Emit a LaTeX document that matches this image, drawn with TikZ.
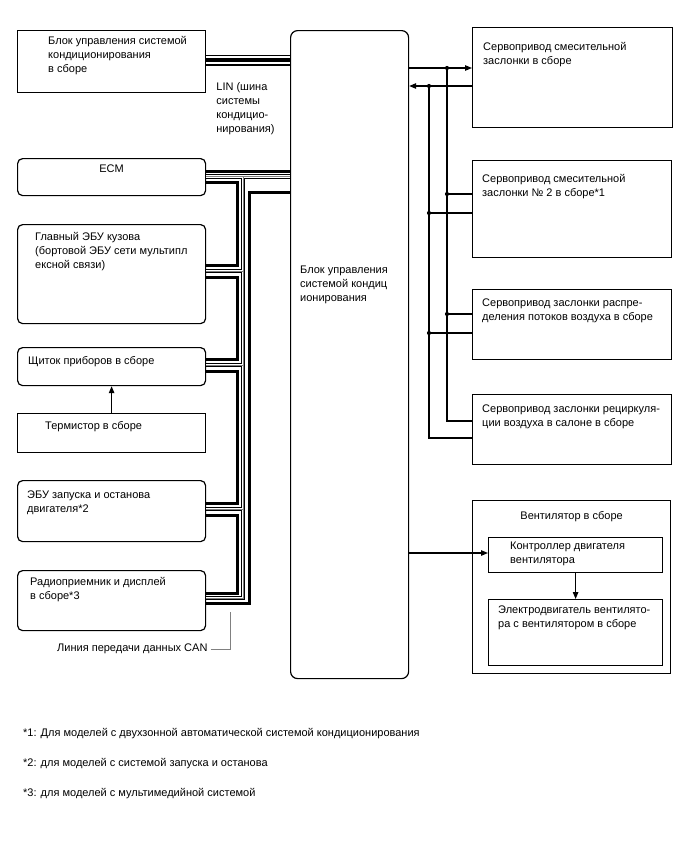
\documentclass[tikz,border=0pt]{standalone}
\usepackage{fontspec}
\setmainfont{Liberation Sans}
\usetikzlibrary{arrows.meta, positioning}

\begin{document}
\begin{tikzpicture}[x=1pt, y=-1pt,
    box/.style={rectangle, draw, line width=1.2pt, inner sep=0pt, anchor=north west},
    ecu/.style={box, rounded corners=5pt},
    txt/.style={inner sep=0pt, align=left, font=\fontsize{11}{14}\selectfont},
    wire/.style={line width=1.1pt},
    sig/.style={wire, -{Triangle[length=7pt, width=5.5pt]}},
    canh/.style={line width=3pt},
    dot/.style={circle, fill, inner sep=0pt, minimum size=4.2pt},
    leader/.style={gray, line width=1pt}
]
\useasboundingbox (0,0) rectangle (688,852);

% left column
\node[box, minimum width=188pt, minimum height=62pt] (acu) at (17,30) {};
\node[ecu, minimum width=188pt, minimum height=37pt] (ecm) at (17,158) {};
\node[ecu, minimum width=188pt, minimum height=99pt] (body) at (17,224) {};
\node[ecu, minimum width=188pt, minimum height=38pt] (clus) at (17,347) {};
\node[box, minimum width=188pt, minimum height=39pt] (therm) at (17,413) {};
\node[ecu, minimum width=188pt, minimum height=61pt] (ss) at (17,480) {};
\node[ecu, minimum width=188pt, minimum height=60pt] (radio) at (17,570) {};
\node[txt, below right=6pt and 31pt of acu.north west] (acut) {Блок управления системой\\кондиционирования\\в сборе};
\node[txt, below=7pt of ecm.north] (ecmt) {ECM};
\node[txt, below right=8pt and 18pt of body.north west] (bodyt) {Главный ЭБУ кузова\\(бортовой ЭБУ сети мультипл\\ексной связи)};
\node[txt, below right=9pt and 11pt of clus.north west] (clust) {Щиток приборов в сборе};
\node[txt, below right=8pt and 28pt of therm.north west] (thermt) {Термистор в сборе};
\node[txt, below right=11pt and 10pt of ss.north west] (sst) {ЭБУ запуска и останова\\двигателя*2};
\node[txt, below right=7pt and 13pt of radio.north west] (radiot) {Радиоприемник и дисплей\\в сборе*3};

% climate amplifier
\node[ecu, rounded corners=7pt, minimum width=118pt, minimum height=648pt] (amp) at (290,30) {};
\node[txt, below right=236pt and 10pt of amp.north west] (ampt) {Блок управления\\системой кондиц\\ионирования};

% right column
\node[box, minimum width=200pt, minimum height=100pt] (srv1) at (472,27) {};
\node[box, minimum width=199pt, minimum height=97pt] (srv2) at (472,160) {};
\node[box, minimum width=199pt, minimum height=70pt] (srv3) at (472,289) {};
\node[box, minimum width=199pt, minimum height=70pt] (srv4) at (472,394) {};
\node[box, minimum width=198pt, minimum height=173pt] (fan) at (472,500) {};
\node[box, minimum width=174pt, minimum height=35pt] (ctrl) at (488,537) {};
\node[box, minimum width=174pt, minimum height=66pt] (motor) at (488,599) {};
\node[txt, below right=15pt and 11pt of srv1.north west] (srv1t) {Сервопривод смесительной\\заслонки в сборе};
\node[txt, below right=14pt and 10pt of srv2.north west] (srv2t) {Сервопривод смесительной\\заслонки № 2 в сборе*1};
\node[txt, below right=10pt and 10pt of srv3.north west] (srv3t) {Сервопривод заслонки распре-\\деления потоков воздуха в сборе};
\node[txt, below right=11pt and 10pt of srv4.north west] (srv4t) {Сервопривод заслонки рециркуля-\\ции воздуха в салоне в сборе};
\node[txt, below=11pt of fan.north] (fant) {Вентилятор в сборе};
\node[txt, below right=5pt and 22pt of ctrl.north west] (ctrlt) {Контроллер двигателя\\вентилятора};
\node[txt, below right=7pt and 10pt of motor.north west] (motort) {Электродвигатель вентилято-\\ра с вентилятором в сборе};

% LIN
\coordinate (lin) at (250,60);
\foreach \w/\c in {11pt/black, 8.4pt/white, 3.4pt/black}
  \draw[line width=\w, \c] (acu.east |- lin) -- (amp.west |- lin);
\node[txt, below right=21pt and 10pt of acu.east] (lint) {LIN (шина\\системы\\кондицио-\\нирования)};

% CAN
\coordinate (t0) at (250,171);
\coordinate (a1) at (237,182); \coordinate (a2) at (237,265);
\coordinate (a3) at (237,277); \coordinate (a4) at (237,359);
\coordinate (a5) at (237,371); \coordinate (a6) at (237,503);
\coordinate (a7) at (237,515); \coordinate (a8) at (237,593);
\coordinate (c1) at (249,603); \coordinate (c2) at (249,192);
\coordinate (b0) at (243,176.5); \coordinate (b1) at (243,271);
\coordinate (b2) at (243,365); \coordinate (b3) at (243,509);
\coordinate (b4) at (243,598);
\foreach \w/\c in {4.4pt/black, 2.8pt/white, 0.6pt/gray}
  \draw[line width=\w, \c] (ecm.east |- b0) -- (amp.west |- b0) (b0) -- (b4) -- (radio.east |- b4)
    (body.east |- b1) -- (b1) (clus.east |- b2) -- (b2) (ss.east |- b3) -- (b3);
\draw[canh] (ecm.east |- t0) -- (amp.west |- t0);
\draw[canh] (ecm.east |- a1) -- (a1) -- (a2) -- (body.east |- a2);
\draw[canh] (body.east |- a3) -- (a3) -- (a4) -- (clus.east |- a4);
\draw[canh] (clus.east |- a5) -- (a5) -- (a6) -- (ss.east |- a6);
\draw[canh] (ss.east |- a7) -- (a7) -- (a8) -- (radio.east |- a8);
\draw[canh] (radio.east |- c1) -- (c1) -- (c2) -- (amp.west |- c2);
\node[txt, anchor=north west] (canlbl) at (57,644) {Линия передачи данных CAN};
\coordinate (canpt) at (230,612);
\draw[leader] ([xshift=3pt]canlbl.east) -| (canpt);

\draw[sig] (therm.north) -- (clus.south);

% servo lines
\node[dot] (j1) at (447,68) {};
\node[dot] (j2) at (429,86) {};
\node[dot] (j3) at (447,194) {};
\node[dot] (j4) at (447,314) {};
\node[dot] (j5) at (429,213) {};
\node[dot] (j6) at (429,333) {};
\coordinate (k1) at (447,421);
\coordinate (k2) at (429,438);
\draw[sig] (amp.east |- j1) -- (srv1.west |- j1);
\draw[sig] (srv1.west |- j2) -- (amp.east |- j2);
\draw[wire] (j1.center) -- (k1) -- (srv4.west |- k1);
\draw[wire] (j2.center) -- (k2) -- (srv4.west |- k2);
\draw[wire] (j3.center) -- (srv2.west |- j3);
\draw[wire] (j5.center) -- (srv2.west |- j5);
\draw[wire] (j4.center) -- (srv3.west |- j4);
\draw[wire] (j6.center) -- (srv3.west |- j6);

% fan
\coordinate (fanin) at (450,553);
\draw[sig] (amp.east |- fanin) -- (ctrl.west |- fanin);
\draw[sig] (ctrl.south) -- (motor.north);

% notes
\node[txt, anchor=north west] (fn1) at (23,728) {*1: Для моделей с двухзонной автоматической системой кондиционирования};
\node[txt, anchor=north west] (fn2) at (23,758) {*2: для моделей с системой запуска и останова};
\node[txt, anchor=north west] (fn3) at (23,788) {*3: для моделей с мультимедийной системой};
\end{tikzpicture}
\end{document}
